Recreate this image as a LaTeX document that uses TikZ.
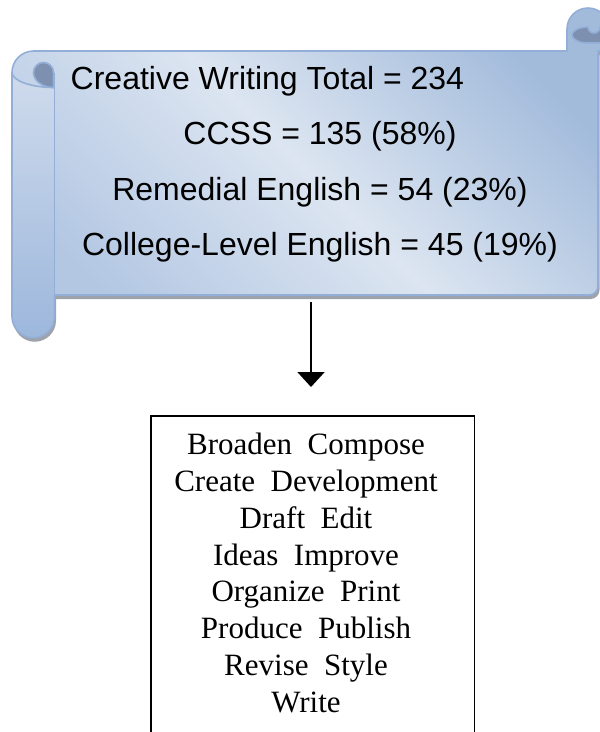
\documentclass[tikz,border=0pt]{standalone}
\usepackage{fontspec}
\setmainfont{Liberation Serif}
\newfontfamily\arialf{Liberation Sans}
\usetikzlibrary{arrows.meta}
\definecolor{paneldark}{HTML}{A2BBDB}
\definecolor{panellight}{HTML}{DCE5F1}
\definecolor{panelmid}{HTML}{B3C7E3}
\definecolor{rolltop}{HTML}{CFDBEC}
\definecolor{rollbot}{HTML}{9DB7DC}
\definecolor{outlc}{HTML}{93AFD7}
\definecolor{curldark}{HTML}{7E90AF}
\definecolor{shadowc}{HTML}{9EA3AB}
\tikzset{
  outl/.style={draw=outlc, line width=1.6pt, line join=round},
  scrolltext/.style={font=\arialf\fontsize{32}{38}\selectfont, inner sep=0pt, text=black},
  wordtext/.style={font=\fontsize{31}{36.8}\selectfont, inner sep=0pt, align=center, text=black},
  boxstyle/.style={draw=black, line width=1.8pt, inner sep=0pt, fill=none},
  arr/.style={line width=2pt, -{Triangle[width=27pt,length=15pt]}}
}
\def\outerpath{(33.5,51) -- (567,51) -- (567,29) arc[start angle=180,end angle=360,radius=21] -- (609,51) -- (598,51) -- (598,286) arc[start angle=0,end angle=90,radius=9] -- (54.5,295) -- (54.5,316.5) arc[start angle=0,end angle=180,radius=21.25] -- (12,72.5) arc[start angle=180,end angle=270,radius=21.5] -- cycle}
\begin{document}
\begin{tikzpicture}[x=1pt,y=-1pt]
\useasboundingbox (0,0) rectangle (600,732);
% shadow
\fill[shadowc, xshift=1.5pt, yshift=-4pt] \outerpath;
% main body
\shade[top color=paneldark, bottom color=panelmid, middle color=panellight, shading angle=-45] \outerpath;
% left roll band
\shade[top color=rolltop, bottom color=rollbot] (12,72.5) arc[start angle=180,end angle=90,x radius=41.5,y radius=15] -- (54.5,87.5) -- (54.5,316.5) arc[start angle=0,end angle=180,radius=21.25] -- cycle;
\draw[outl] \outerpath;
% left curl
\draw[outl] (12,72.5) arc[start angle=180,end angle=90,x radius=42.5,y radius=15];
\draw[outl] (54.5,72.5) -- (54.5,295);
\filldraw[fill=curldark, outl] (53.5,72.5) arc[start angle=0,end angle=-180,radius=10] arc[start angle=180,end angle=90,x radius=20,y radius=15] -- cycle;
% right curl
\filldraw[fill=curldark, outl] (609,43) -- (588,43) arc[start angle=90,end angle=270,x radius=16,y radius=8] arc[start angle=180,end angle=0,radius=6] -- (609,27) -- cycle;
% scroll texts
\node[scrolltext, anchor=base west] (t1) at (70.5,89) {Creative Writing Total = 234};
\node[scrolltext, anchor=base] (t2) at (320,144) {CCSS = 135 (58\%)};
\node[scrolltext, anchor=base] (t3) at (320,200) {Remedial English = 54 (23\%)};
\node[scrolltext, anchor=base] (t4) at (320,255) {College-Level English = 45 (19\%)};
% arrow
\coordinate (arrS) at (311,302);
\coordinate (arrE) at (311,387);
\draw[arr] (arrS) -- (arrE);
% box
\node[boxstyle, minimum width=323.5pt, minimum height=360pt, anchor=north west] (box) at (150,415) {};
\node[wordtext, anchor=north] (words) at (306,433) {Broaden\ \ Compose\\Create\ \ Development\\Draft\ \ Edit\\Ideas\ \ Improve\\Organize\ \ Print\\Produce\ \ Publish\\Revise\ \ Style\\Write};
\end{tikzpicture}
\end{document}
